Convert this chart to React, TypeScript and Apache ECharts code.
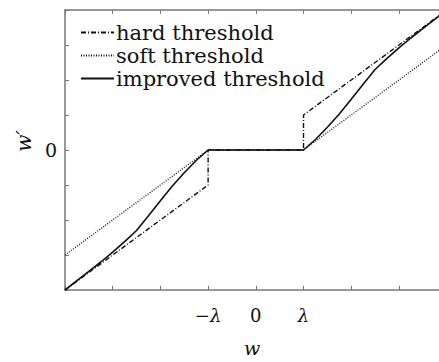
import React, { useEffect, useRef } from "react";
import * as echarts from "echarts";

// x in units of lambda (lambda = 1)
const hardW = [-4, -1, -1, 1, 1, 4];
const hardV = [-4, -1, 0, 0, 1, 4];

const softW = [-4, -1, 1, 4];
const softV = [-3, 0, 0, 3];

const improvedW = [-4, -3.75, -3.5, -3.25, -3, -2.75, -2.5, -2.25, -2, -1.75, -1.5, -1.25, -1, 1, 1.25, 1.5, 1.75, 2, 2.25, 2.5, 2.75, 3, 3.25, 3.5, 3.75, 4];
const improvedV = [-4, -3.73, -3.47, -3.2, -2.92, -2.62, -2.3, -1.88, -1.45, -1.03, -0.65, -0.3, 0, 0, 0.3, 0.65, 1.03, 1.45, 1.88, 2.3, 2.62, 2.92, 3.2, 3.47, 3.73, 4];

const seriesNames = ["hard threshold", "soft threshold", "improved threshold"];
const xTickLabels: Record<string, string> = { "-1": "{m|−}{i|λ}", "0": "{n|0}", "1": "{i|λ}" };

const zip = (a: number[], b: number[]) => a.map((v, i) => [v, b[i]]);

export default function App() {
  const ref = useRef<HTMLDivElement>(null);
  useEffect(() => {
    if (!ref.current) return;
    const chart = echarts.init(ref.current, null, { renderer: "svg" });
    const serif = "DejaVu Serif";
    const axisColor = "#777";
    const ink = "#111";
    const labelRich = {
      i: { fontFamily: serif, fontStyle: "italic", fontSize: 18, color: ink },
      n: { fontFamily: serif, fontSize: 18, color: ink },
      m: { fontFamily: serif, fontSize: 18, color: ink },
    };
    chart.setOption({
      animation: false,
      backgroundColor: "#fff",
      grid: { left: 65, top: 10, bottom: 53, right: 0, containLabel: false },
      legend: {
        orient: "vertical",
        left: 75,
        top: 17,
        itemWidth: 33,
        itemHeight: 14,
        itemGap: 2,
        data: seriesNames,
        itemStyle: { opacity: 0 },
        textStyle: { fontFamily: serif, fontSize: 21, color: ink, padding: [0, 0, 0, -3] },
      },
      xAxis: [
        {
          type: "value",
          min: -4,
          max: 3.84,
          interval: 1,
          position: "bottom",
          axisLine: { show: true, onZero: false, lineStyle: { color: axisColor, width: 1.5 } },
          axisTick: { show: true, inside: true, length: 4, lineStyle: { color: axisColor } },
          splitLine: { show: false },
          axisLabel: {
            margin: 16,
            showMaxLabel: false,
            formatter: (v: number) => xTickLabels[String(v)] || "",
            rich: labelRich,
          },
          name: "w",
          nameLocation: "middle",
          nameGap: 48,
          nameTextStyle: { fontFamily: serif, fontStyle: "italic", fontSize: 19, color: ink },
        },
        {
          type: "value",
          min: -4,
          max: 3.84,
          interval: 1,
          position: "top",
          axisLine: { show: true, onZero: false, lineStyle: { color: axisColor, width: 1.5 } },
          axisTick: { show: true, inside: true, length: 4, lineStyle: { color: axisColor } },
          splitLine: { show: false },
          axisLabel: { show: false },
        },
      ],
      yAxis: {
        type: "value",
        min: -4,
        max: 4,
        interval: 1,
        axisLine: { show: true, onZero: false, lineStyle: { color: axisColor, width: 1.5 } },
        axisTick: { show: true, inside: true, length: 4, lineStyle: { color: axisColor } },
        splitLine: { show: false },
        axisLabel: {
          margin: 8,
          formatter: (v: number) => (v === 0 ? "0" : ""),
          fontFamily: serif,
          fontSize: 19,
          color: ink,
        },
        name: "w′",
        nameLocation: "middle",
        nameRotate: 90,
        nameGap: 26,
        nameTextStyle: { fontFamily: serif, fontStyle: "italic", fontSize: 20, color: ink, padding: [0, 0, 0, 18] },
      },
      series: [
        {
          name: seriesNames[0],
          type: "line",
          data: zip(hardW, hardV),
          symbol: "none",
          lineStyle: { color: ink, width: 1.4, type: [5, 2, 1, 2] },
          itemStyle: { color: ink },
          z: 3,
        },
        {
          name: seriesNames[1],
          type: "line",
          data: zip(softW, softV),
          symbol: "none",
          lineStyle: { color: ink, width: 1.3, type: [1, 1.5] },
          itemStyle: { color: ink },
          z: 2,
        },
        {
          name: seriesNames[2],
          type: "line",
          data: zip(improvedW, improvedV),
          symbol: "none",
          lineStyle: { color: ink, width: 1.6, type: "solid" },
          itemStyle: { color: ink },
          z: 4,
        },
      ],
    });
    return () => chart.dispose();
  }, []);
  return <div ref={ref} style={{ position: "fixed", left: 0, top: 0, width: 439, height: 362, background: "#fff" }} />;
}
